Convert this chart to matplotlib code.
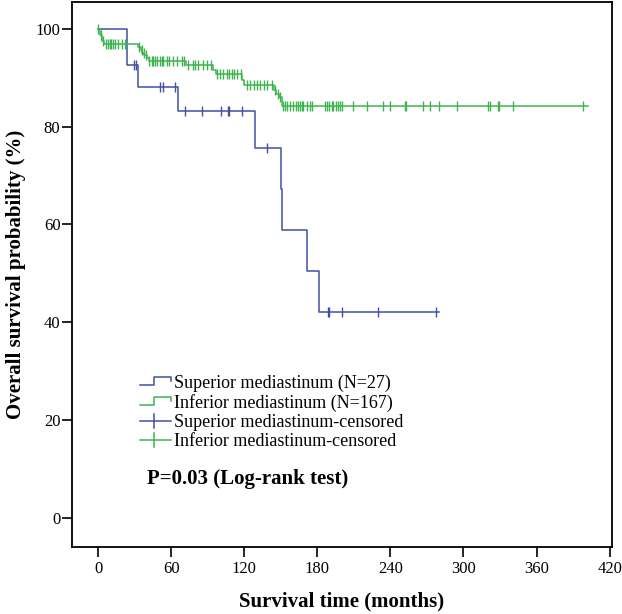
import numpy as np
import matplotlib
matplotlib.use("Agg")
import matplotlib.pyplot as plt
from matplotlib.lines import Line2D
from matplotlib.legend_handler import HandlerBase

plt.rcParams['font.family'] = ['Liberation Serif', 'DejaVu Serif']

# ---------------- data ----------------
blue_times = [0, 23.5, 32.5, 65.5, 128.7, 150.5, 151.2, 171.5, 181.8]
blue_surv = [100, 92.6, 88.2, 83.3, 75.7, 67.3, 58.9, 50.5, 42.1]
blue_end = 279.8
blue_cens = [29.5, 31.2, 50.9, 53.6, 63.2, 71.4, 85.1, 101.0, 107.0, 107.8,
             117.9, 139.0, 188.5, 189.8, 200.2, 230.2, 277.8]

green_times = [0, 1.5, 3.5, 5, 33, 35, 36.5, 38, 40, 41.5, 72.2, 94.7, 96.5,
               118, 120, 144.5, 146.5, 148.5, 150.8]
green_surv = [100, 98.8, 97.6, 97.0, 96.4, 95.8, 95.2, 94.6, 94.0, 93.4, 92.6,
              91.7, 90.8, 89.6, 88.5, 87.6, 86.8, 86.0, 84.2]
green_end = 402
green_cens = [0.3, 2.5, 4.4, 6.5, 8.5, 9.8, 11, 12.6, 14, 16, 19.4, 22.2,
              34, 36, 37.5, 39, 42, 44, 45.5, 46.8, 48.5, 50.5, 52.2, 53.5,
              56.4, 58.5, 61.8, 65, 68.7, 70.5, 74, 78.2, 80, 82.4, 86, 89.2,
              92.5, 97.4, 100.1, 102.8, 105.6, 107.5, 109.7, 111.6, 113.8,
              117.1, 122.3, 125, 127.7, 130.5, 133.2, 136, 138.7, 142.5, 145.5,
              147.5, 149.5, 151.6, 153.5, 155.4, 157.6, 160.3, 162.3, 163.9,
              165.8, 167.2, 168.5, 171.3, 174, 175.4, 186.3, 187.7, 189.6,
              191.8, 193.2, 195.4, 197.3, 198.6, 200, 209.6, 220.5, 234.2,
              239.7, 252, 252.5, 267, 272.5, 279.9, 294.4, 320.4, 321.8,
              328.6, 329.4, 340.4, 398.4]

x_ticks = [0, 60, 120, 180, 240, 300, 360, 420]
y_ticks = [0, 20, 40, 60, 80, 100]

labels = ["Superior mediastinum (N=27)", "Inferior mediastinum (N=167)",
          "Superior mediastinum-censored", "Inferior mediastinum-censored"]
p_text = "P=0.03 (Log-rank test)"

BLUE = '#3f51a5'
GREEN = '#3fb34f'


def step_xy(times, surv, end):
    t = np.append(np.asarray(times, float), end)
    s = np.append(np.asarray(surv, float), surv[-1])
    return t, s


def level_at(times, surv, ct):
    idx = np.searchsorted(np.asarray(times, float), np.asarray(ct, float), side='right') - 1
    return np.asarray(surv, float)[idx]


fig = plt.figure(figsize=(6.22, 6.14), dpi=100)
ax = fig.add_axes([0.115, 0.1086, 0.8684, 0.8886])

bt, bs = step_xy(blue_times, blue_surv, blue_end)
gt, gs = step_xy(green_times, green_surv, green_end)
ax.step(bt, bs, where='post', color=BLUE, lw=1.1)
ax.step(gt, gs, where='post', color=GREEN, lw=1.1)
ax.plot(blue_cens, level_at(blue_times, blue_surv, blue_cens), ls='none',
        marker='|', ms=7, mew=1.0, color=BLUE)
ax.plot(green_cens, level_at(green_times, green_surv, green_cens), ls='none',
        marker='|', ms=7, mew=1.0, color=GREEN)

ax.set_xlim(-21.75, 421.7)
ax.set_ylim(-6.1, 105.6)
ax.set_xticks(x_ticks)
ax.set_yticks(y_ticks)
ax.tick_params(axis='both', direction='out', length=7, width=1.2, labelsize=12)
ax.tick_params(axis='y', pad=1)
ax.tick_params(axis='x', pad=3)
for sp in ax.spines.values():
    sp.set_linewidth(1.3)

ax.set_xlabel("Survival time (months)", fontsize=15, fontweight='bold', labelpad=10)
ax.set_ylabel("Overall survival probability (%)", fontsize=15, fontweight='bold', labelpad=7)


class IconHandler(HandlerBase):
    def __init__(self, color, kind):
        super().__init__()
        self.color = color
        self.kind = kind

    def create_artists(self, legend, orig_handle, xdescent, ydescent, width,
                       height, fontsize, trans):
        x0, y0 = -xdescent, -ydescent
        if self.kind == 'step':
            xs = [x0, x0 + 0.45 * width, x0 + 0.45 * width, x0 + width, x0 + width]
            ys = [y0 + 0.2 * height, y0 + 0.2 * height, y0 + 0.85 * height,
                  y0 + 0.85 * height, y0 + 0.55 * height]
            return [Line2D(xs, ys, color=self.color, lw=1.1, transform=trans)]
        xm = x0 + 0.45 * width
        ln = Line2D([x0, x0 + width], [y0 + 0.5 * height] * 2, color=self.color,
                    lw=1.1, transform=trans)
        tk = Line2D([xm, xm], [y0 - 0.05 * height, y0 + 1.05 * height],
                    color=self.color, lw=1.1, transform=trans)
        return [ln, tk]


handles = [Line2D([], []) for _ in range(4)]
hmap = {handles[0]: IconHandler(BLUE, 'step'), handles[1]: IconHandler(GREEN, 'step'),
        handles[2]: IconHandler(BLUE, 'cens'), handles[3]: IconHandler(GREEN, 'cens')}
leg = ax.legend(handles, labels, handler_map=hmap, loc='upper left',
                bbox_to_anchor=(0.1268, 0.3165), frameon=False, fontsize=13,
                handlelength=1.7, handletextpad=0.2, labelspacing=0.12,
                borderpad=0, borderaxespad=0)

ax.text(0.1393, 0.126, p_text, transform=ax.transAxes, fontsize=15,
        fontweight='bold', va='center', ha='left')

fig.savefig("out.png", dpi=100)
